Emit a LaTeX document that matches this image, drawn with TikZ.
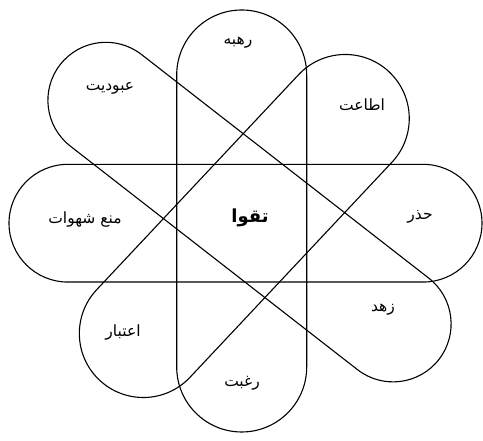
\documentclass[tikz,border=0pt]{standalone}
\usepackage{fontspec}
\TeXXeTstate=1
\newfontfamily\arabicfont[Script=Arabic]{DejaVu Sans}
\tikzset{
  petal/.style={draw=black, line width=1.1pt, fill=none},
  lbl/.style={font=\arabicfont\fontsize{15.5}{18}\selectfont, inner sep=1pt},
  centerlbl/.style={font=\arabicfont\bfseries\fontsize{18}{21}\selectfont, inner sep=1pt}
}
% #1 cx, #2 cy, #3 angle, #4 half straight length, #5 radius
\newcommand{\stadiumshape}[5]{%
  \begin{scope}[shift={(#1,#2)}, rotate=#3]
    \draw[petal] (-#4,-#5) -- (#4,-#5) arc[start angle=-90,end angle=90,radius=#5]
      -- (-#4,#5) arc[start angle=90,end angle=270,radius=#5] -- cycle;
  \end{scope}}
\begin{document}
\begin{tikzpicture}[x=1pt,y=1pt]
\useasboundingbox (0,0) rectangle (483,441);
% horizontal
\stadiumshape{245.5}{217.8}{0}{177.65}{58.85}
% vertical
\stadiumshape{241.7}{220}{90}{146}{65}
% NW-SE
\stadiumshape{249.5}{228.9}{-37.9}{182}{58}
% NE-SW
\stadiumshape{244.3}{215}{46.8}{147.5}{64}
% labels (image y -> 441 - y)
\node[lbl] (rahbe) at (238,398) {\beginR رهبه\endR};
\node[lbl] (ubudiyat) at (110,353) {\beginR عبودیت\endR};
\node[lbl] (etaat) at (362,336) {\beginR اطاعت\endR};
\node[lbl] (mane) at (85,221) {\beginR منع شهوات\endR};
\node[centerlbl] (taqva) at (250,223) {\beginR تقوا\endR};
\node[lbl] (hazar) at (420,224) {\beginR حذر\endR};
\node[lbl] (zohd) at (383,131) {\beginR زهد\endR};
\node[lbl] (etebar) at (123,108) {\beginR اعتبار\endR};
\node[lbl] (raghbat) at (242,58) {\beginR رغبت\endR};
\end{tikzpicture}
\end{document}
